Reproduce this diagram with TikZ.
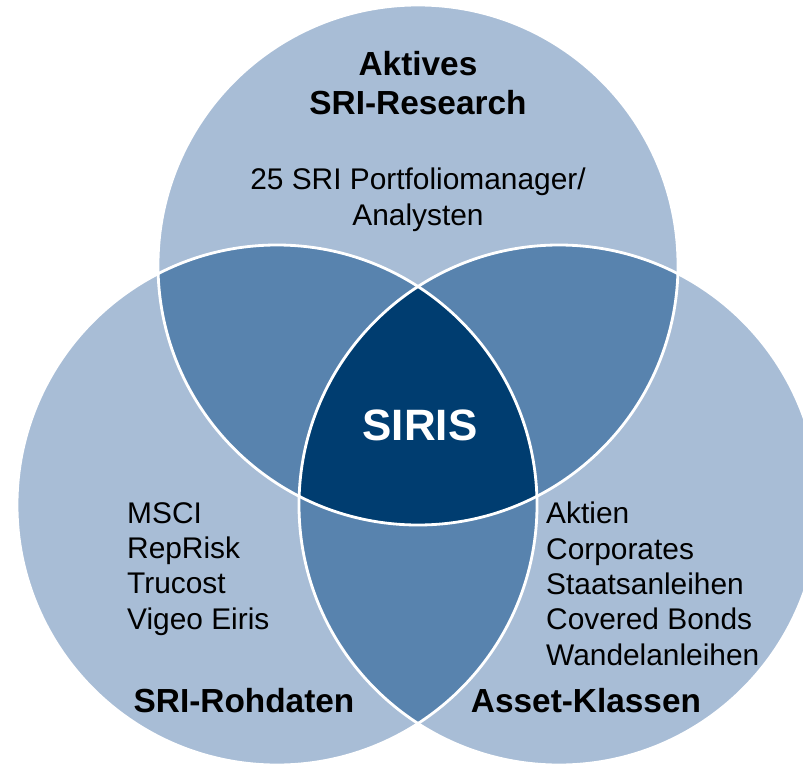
\documentclass[tikz,border=0pt]{standalone}
\usepackage{fontspec}
\setmainfont{Liberation Sans}
\usepackage{tikz}
\usetikzlibrary{positioning,backgrounds}

\definecolor{lightblue}{HTML}{A8BDD6}
\definecolor{midblue}{HTML}{5883AE}
\definecolor{darkblue}{HTML}{003D70}

\tikzset{
  titletext/.style={align=center, font=\fontsize{19}{22.7}\selectfont\bfseries},
  bodytext/.style={align=left, font=\fontsize{17}{20.1}\selectfont},
  ring/.style={draw=white, line width=1.6pt}
}

\begin{document}
\begin{tikzpicture}[x=0.02cm, y=0.02cm]
    \useasboundingbox (0,0) rectangle (803,765);

    % Circle centres
    \coordinate (ctop) at (418,500);
    \coordinate (cleft) at (277,260);
    \coordinate (cright) at (559,260);

    % Circles
    \fill[lightblue] (ctop) circle (260);
    \fill[lightblue] (cleft) circle (260);
    \fill[lightblue] (cright) circle (260);

    % Overlaps
    \begin{scope}
      \clip (ctop) circle (260);
      \fill[midblue] (cleft) circle (260);
      \fill[midblue] (cright) circle (260);
    \end{scope}
    \begin{scope}
      \clip (cleft) circle (260);
      \fill[midblue] (cright) circle (260);
    \end{scope}
    \begin{scope}
      \clip (ctop) circle (260);
      \clip (cleft) circle (260);
      \fill[darkblue] (cright) circle (260);
    \end{scope}

    % Outlines
    \draw[ring] (ctop) circle (260);
    \draw[ring] (cleft) circle (260);
    \draw[ring] (cright) circle (260);

    % Labels
    \node[titletext, anchor=base] (research) at (418,650) {Aktives\\SRI-Research};
    \node[bodytext, align=center, anchor=base] (analysts) at (418,540) {25 SRI Portfoliomanager/\\Analysten};
    \node[font=\fontsize{25}{29}\selectfont\bfseries, text=white, anchor=base] (siris) at (420,325) {SIRIS};

    \node[bodytext, anchor=base west] (rawdata) at (121,136) {MSCI\\RepRisk\\Trucost\\Vigeo Eiris};
    \node[bodytext, anchor=base west] (assets) at (540,100) {Aktien\\Corporates\\Staatsanleihen\\Covered Bonds\\Wandelanleihen};

    \node[titletext, anchor=base] (rawtitle) at (244,53) {SRI-Rohdaten};
    \node[titletext, anchor=base] (assettitle) at (586,53) {Asset-Klassen};

\end{tikzpicture}
\end{document}
